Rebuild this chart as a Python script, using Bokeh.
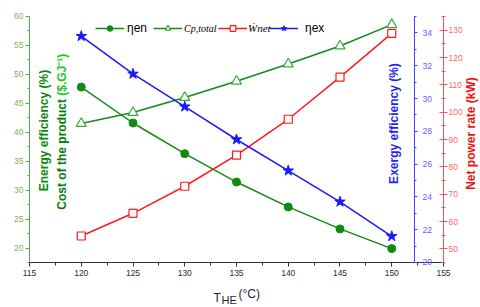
import math
from bokeh.plotting import figure
from bokeh.models import (LinearAxis, Range1d, SingleIntervalTicker, Label,
                          Legend, LegendItem)
from bokeh.embed import file_html
from bokeh.resources import INLINE

# ---------------- data ----------------
T_HE = [120, 125, 130, 135, 140, 145, 150]
eta_en = [47.8, 41.6, 36.3, 31.4, 27.1, 23.3, 19.9]        # energy efficiency (%)
c_p_total = [41.5, 43.4, 46.0, 48.8, 51.8, 54.9, 58.6]     # cost of product ($/GJ)
w_net = [54.7, 63.0, 72.9, 84.3, 97.4, 112.8, 128.8]       # net power (kW)
eta_ex = [33.8, 31.5, 29.5, 27.5, 25.6, 23.7, 21.6]        # exergy efficiency (%)

FONT = "Liberation Sans"
SERIF = "Liberation Serif"
GREEN = "#138a13"
LGREEN = "#3aaa3a"
RED = "#ff1a1a"
BLUE = "#1a1aff"

# The frame fills the whole canvas so that every text stays inside it; the
# visible axes are fixed-location axes limited with bounds.
p = figure(width=480, height=307, x_range=Range1d(112.198, 158.575),
           y_range=Range1d(9.724, 62.764),
           output_backend="svg", toolbar_location=None,
           x_axis_location=None, y_axis_location=None,
           min_border_left=0, min_border_right=0, min_border_top=0, min_border_bottom=0)
p.xgrid.visible = False
p.ygrid.visible = False
p.outline_line_color = None
p.extra_y_ranges = {"ex": Range1d(17.256, 35.976), "net": Range1d(28.537, 140.854)}

def style_axis(ax, line_color, label_color, tick_in, tick_out, minor_in, minor_out, standoff):
    ax.axis_line_color = line_color
    ax.major_tick_line_color = line_color
    ax.minor_tick_line_color = line_color
    ax.major_tick_in = tick_in
    ax.major_tick_out = tick_out
    ax.minor_tick_in = minor_in
    ax.minor_tick_out = minor_out
    ax.major_label_standoff = standoff
    ax.major_label_text_color = label_color
    ax.major_label_text_font = FONT
    ax.major_label_text_font_size = "8.5px"

lax = LinearAxis(fixed_location=115, bounds=(17.5, 60),
                 ticker=SingleIntervalTicker(interval=5, num_minor_ticks=2))
style_axis(lax, "#4caf50", "#7fb24e", 0, 4, 0, 2, 2)
p.add_layout(lax, "left")

xax = LinearAxis(fixed_location=17.5, bounds=(115, 155),
                 ticker=SingleIntervalTicker(interval=5, num_minor_ticks=2))
style_axis(xax, "#333333", "#2b2b45", 0, 4, 0, 3, 4)
p.add_layout(xax, "below")

rax = LinearAxis(y_range_name="net", fixed_location=155, bounds=(45, 135),
                 ticker=SingleIntervalTicker(interval=10, num_minor_ticks=2))
style_axis(rax, "#ff5555", "#ff6666", 4, 4, 2, 2, 1)
p.add_layout(rax, "right")

bax = LinearAxis(y_range_name="ex", fixed_location=152.2, bounds=(20, 35),
                 ticker=SingleIntervalTicker(interval=2, num_minor_ticks=2))
style_axis(bax, "#4444ff", "#6060ff", 0, 3, 0, 2, 5)
p.add_layout(bax, "right")

# ---------------- series ----------------
r_en_l = p.line(T_HE, eta_en, line_color=GREEN, line_width=1.5)
r_en_p = p.scatter(T_HE, eta_en, marker="circle", size=8, fill_color=GREEN, line_color=GREEN)
r_cp_l = p.line(T_HE, c_p_total, line_color=GREEN, line_width=1.5)
r_cp_p = p.scatter(T_HE, c_p_total, marker="triangle", size=10, fill_color="white",
                   line_color=LGREEN, line_width=1.2)
r_w_l = p.line(T_HE, w_net, line_color=RED, line_width=1.5, y_range_name="net")
r_w_p = p.scatter(T_HE, w_net, marker="square", size=8, fill_color="white",
                  line_color=RED, line_width=1.2, y_range_name="net")
r_ex_l = p.line(T_HE, eta_ex, line_color=BLUE, line_width=1.5, y_range_name="ex")
r_ex_p = p.scatter(T_HE, eta_ex, marker="star", size=11, fill_color=BLUE,
                   line_color=BLUE, y_range_name="ex")

# ---------------- legends ----------------
def add_legend(label, renderers, vx, standoff, font, style, size):
    lg = Legend(items=[LegendItem(label=label, renderers=renderers)],
                location=(vx, 272), orientation="horizontal",
                glyph_width=29, glyph_height=14, label_height=14,
                label_standoff=standoff, padding=0, margin=0, spacing=0,
                border_line_color=None, background_fill_alpha=0,
                label_text_font=font, label_text_font_style=style,
                label_text_font_size=size, label_text_color="black")
    p.add_layout(lg)

add_legend("ηen", [r_en_l, r_en_p], 95, 3, FONT, "normal", "12px")
add_legend("Cp,total", [r_cp_l, r_cp_p], 153, 2, SERIF, "italic", "10px")
add_legend("Ẇnet", [r_w_l, r_w_p], 218, 1, SERIF, "italic", "11px")
add_legend("ηex", [r_ex_l, r_ex_p], 269, 7, FONT, "normal", "12px")

# ---------------- axis titles ----------------
def title(text, x, y, color, align="center", angle=math.pi / 2, size="12px",
          style="bold", baseline="middle"):
    p.add_layout(Label(x=x, y=y, text=text, angle=angle,
                       text_align=align, text_baseline=baseline, text_font=FONT,
                       text_font_size=size, text_font_style=style, text_color=color))

title("Energy efficiency (%)", 116.40, 40.30, "#0b8a0b")
title("Cost of the product", 118.14, 45.75, "#067d06", align="right")
title("($.GJ⁻¹)", 118.14, 46.32, "#22c822", align="left")
title("Exergy efficiency (%)", 150.17, 41.51, "#1f1fff")
title("Net power rate (kW)", 157.61, 39.79, "#ee1111")

title("T", 132.78, 11.45, "#1c1c3a", align="left", angle=0, size="12px",
      style="normal", baseline="alphabetic")
title("HE", 133.55, 11.02, "#1c1c3a", align="left", angle=0, size="11px",
      style="normal", baseline="alphabetic")
title("(°C)", 135.19, 11.97, "#1c1c3a", align="left", angle=0, size="12px",
      style="normal", baseline="alphabetic")

open("out.html", "w").write(file_html(p, INLINE))
